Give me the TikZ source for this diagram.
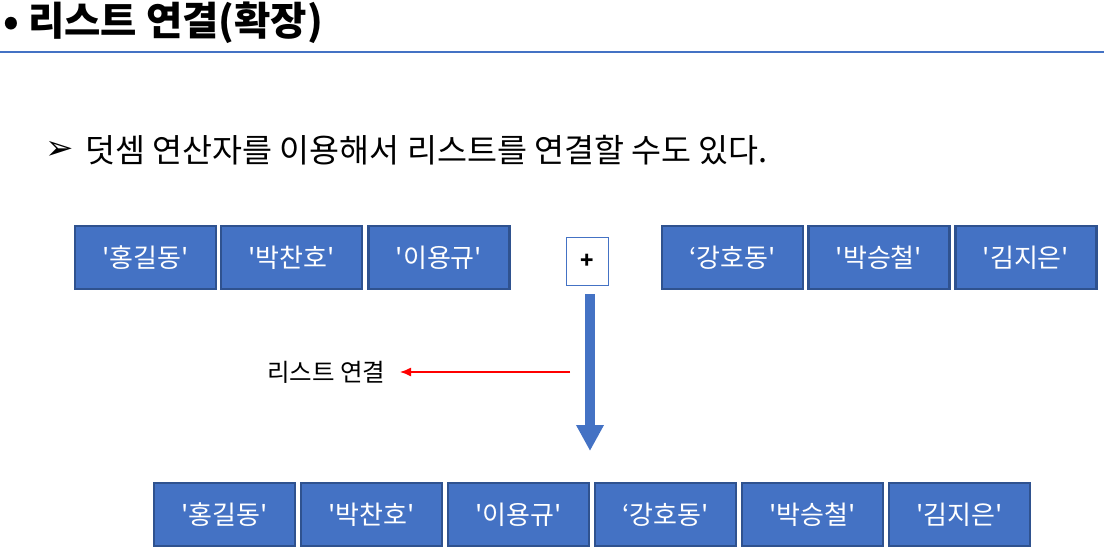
\documentclass[tikz,border=0pt]{standalone}
\usepackage{fontspec}
\setmainfont{Noto Sans CJK KR}[Ligatures=TeXOff]
\newfontfamily\symfont{DejaVu Sans}
\usetikzlibrary{arrows.meta}
\definecolor{boxblue}{HTML}{4472C4}
\definecolor{boxedge}{HTML}{2F528F}
\begin{document}
\begin{tikzpicture}[x=1pt,y=-1pt,
  item/.style={draw=boxedge,line width=2.2pt,fill=boxblue,minimum width=141pt,minimum height=63pt,inner sep=0pt,text=white,font=\fontsize{26}{28}\selectfont},
  plusbox/.style={draw=boxblue,line width=1pt,fill=white,minimum width=42pt,minimum height=48pt,inner sep=0pt,font=\fontsize{22}{24}\selectfont\bfseries}]
\useasboundingbox (0,0) rectangle (1104,559);
% title
\node[anchor=west,inner sep=0pt] (title) at (3,23) {\fontsize{39.5}{43}\selectfont\bfseries • 리스트 연결(확장)};
\draw[boxblue,line width=1.6pt] (0,52) -- (1104,52);
% bullet line
\node[anchor=west,inner sep=0pt] (arr) at (45,150) {\symfont\fontsize{34}{36}\selectfont ➢};
\node[anchor=west,inner sep=0pt] (sub) at (85,150) {\fontsize{32.6}{35}\selectfont 덧셈 연산자를 이용해서 리스트를 연결할 수도 있다.};
% top row
\node[item] (a1) at (145.5,257.5) {'홍길동'};
\node[item] (a2) at (291.5,257.5) {'박찬호'};
\node[item] (a3) at (439,257.5) {'이용규'};
\node[plusbox] (plus) at (587,261) {+};
\node[item] (b1) at (732.5,257.5) {‘강호동'};
\node[item] (b2) at (879,257.5) {'박승철'};
\node[item] (b3) at (1026,257.5) {'김지은'};
% big arrow
\coordinate (s) at (590,294);
\coordinate (e) at (590,451);
\draw[boxblue,line width=10pt,-{Triangle[length=26pt,width=26pt]}] (s) -- (e);
% red arrow
\coordinate (r1) at (570,372);
\coordinate (r2) at (400,372);
\node[anchor=west,inner sep=0pt] (lbl) at (267,372) {\fontsize{24.5}{26}\selectfont 리스트 연결};
\draw[red,line width=1.3pt,-{Latex[length=11pt,width=9pt]}] (r1) -- (r2);
% bottom row
\node[item] (c1) at (224.5,514.5) {'홍길동'};
\node[item] (c2) at (371.5,514.5) {'박찬호'};
\node[item] (c3) at (518.5,514.5) {'이용규'};
\node[item] (c4) at (665.5,514.5) {‘강호동'};
\node[item] (c5) at (812.5,514.5) {'박승철'};
\node[item] (c6) at (959.5,514.5) {'김지은'};
\end{tikzpicture}
\end{document}
